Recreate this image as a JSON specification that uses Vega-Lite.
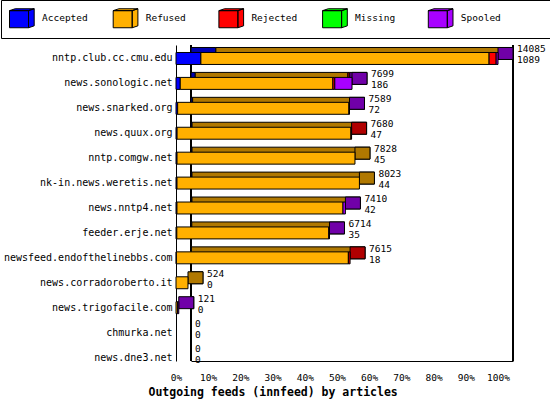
{
  "$schema": "https://vega.github.io/schema/vega-lite/v6.json",
  "width": 322,
  "height": 316,
  "autosize": {"type": "none"},
  "padding": {"left": 191, "top": 45, "right": 37, "bottom": 44},
  "background": "white",
  "data": {
    "values": [
      {"host": "nntp.club.cc.cmu.edu", "offered": 14085, "accepted": 1089, "Accepted": 7.73, "Refused": 89.5, "Rejected": 2.2, "Missing": 0, "Spooled": 0.57},
      {"host": "news.sonologic.net", "offered": 7699, "accepted": 186, "Accepted": 1.32, "Refused": 47.4, "Rejected": 0.6, "Missing": 0, "Spooled": 5.34},
      {"host": "news.snarked.org", "offered": 7589, "accepted": 72, "Accepted": 0.51, "Refused": 53.2, "Rejected": 0, "Missing": 0, "Spooled": 0.17},
      {"host": "news.quux.org", "offered": 7680, "accepted": 47, "Accepted": 0.33, "Refused": 54.0, "Rejected": 0.2, "Missing": 0, "Spooled": 0},
      {"host": "nntp.comgw.net", "offered": 7828, "accepted": 45, "Accepted": 0.32, "Refused": 55.26, "Rejected": 0, "Missing": 0, "Spooled": 0},
      {"host": "nk-in.news.weretis.net", "offered": 8023, "accepted": 44, "Accepted": 0.31, "Refused": 56.65, "Rejected": 0, "Missing": 0, "Spooled": 0},
      {"host": "news.nntp4.net", "offered": 7410, "accepted": 42, "Accepted": 0.3, "Refused": 51.56, "Rejected": 0, "Missing": 0, "Spooled": 0.75},
      {"host": "feeder.erje.net", "offered": 6714, "accepted": 35, "Accepted": 0.25, "Refused": 47.2, "Rejected": 0, "Missing": 0, "Spooled": 0.22},
      {"host": "newsfeed.endofthelinebbs.com", "offered": 7615, "accepted": 18, "Accepted": 0.13, "Refused": 53.4, "Rejected": 0.53, "Missing": 0, "Spooled": 0},
      {"host": "news.corradoroberto.it", "offered": 524, "accepted": 0, "Accepted": 0, "Refused": 3.72, "Rejected": 0, "Missing": 0, "Spooled": 0},
      {"host": "news.trigofacile.com", "offered": 121, "accepted": 0, "Accepted": 0, "Refused": 0.5, "Rejected": 0, "Missing": 0, "Spooled": 0.36},
      {"host": "chmurka.net", "offered": 0, "accepted": 0, "Accepted": 0, "Refused": 0, "Rejected": 0, "Missing": 0, "Spooled": 0},
      {"host": "news.dne3.net", "offered": 0, "accepted": 0, "Accepted": 0, "Refused": 0, "Rejected": 0, "Missing": 0, "Spooled": 0}
    ]
  },
  "layer": [
    {
      "mark": {"type": "rule", "color": "black", "strokeWidth": 1},
      "encoding": {
        "x": {
          "datum": 0,
          "type": "quantitative",
          "scale": {"domain": [0, 100], "nice": false, "zero": true},
          "axis": {
            "title": "Outgoing feeds (innfeed) by articles",
            "values": [0, 10, 20, 30, 40, 50, 60, 70, 80, 90, 100],
            "tickCount": 11,
            "labelExpr": "datum.value + '%'",
            "grid": false,
            "ticks": false,
            "labelOffset": -15,
            "labelPadding": 11,
            "labelFont": "DejaVu Sans Mono",
            "labelFontSize": 9.5,
            "labelColor": "black",
            "labelFlush": false,
            "labelOverlap": false,
            "labelBound": false,
            "domainColor": "black",
            "titleFont": "DejaVu Sans Mono",
            "titleFontSize": 11.5,
            "titleFontWeight": "bold",
            "titleColor": "black",
            "titleAnchor": "start",
            "titleAlign": "left",
            "titleX": -43,
            "titleY": 31,
            "titleBaseline": "middle"
          }
        }
      }
    },
    {
      "mark": {"type": "rule", "color": "black", "strokeWidth": 1},
      "encoding": {"x": {"datum": 100, "type": "quantitative"}}
    },
    {
      "transform": [
        {"fold": ["Accepted", "Refused", "Rejected", "Missing", "Spooled"], "as": ["cat", "value"]},
        {"filter": "datum.value > 0"},
        {"calculate": "indexof(['Accepted','Refused','Rejected','Missing','Spooled'], datum.cat)", "as": "idx"}
      ],
      "mark": {"type": "bar", "stroke": "black", "strokeWidth": 1, "opacity": 1},
      "encoding": {
        "y": {
          "field": "host",
          "type": "nominal",
          "scale": {
            "domain": ["nntp.club.cc.cmu.edu", "news.sonologic.net", "news.snarked.org", "news.quux.org", "nntp.comgw.net", "nk-in.news.weretis.net", "news.nntp4.net", "feeder.erje.net", "newsfeed.endofthelinebbs.com", "news.corradoroberto.it", "news.trigofacile.com", "chmurka.net", "news.dne3.net"],
            "paddingInner": 0.52,
            "paddingOuter": 0.1
          },
          "axis": {
            "title": null,
            "offset": 15,
            "ticks": false,
            "labelPadding": 4,
            "labelOffset": 5,
            "labelFont": "DejaVu Sans Mono",
            "labelFontSize": 10,
            "labelColor": "black",
            "labelLimit": 250,
            "domainColor": "black"
          }
        },
        "x": {"field": "value", "type": "quantitative", "stack": "zero"},
        "order": {"field": "idx"},
        "color": {
          "field": "cat",
          "scale": {"domain": ["Accepted", "Refused", "Rejected", "Missing", "Spooled"], "range": ["#0000b0", "#b07800", "#b00000", "#00a000", "#7000a8"]},
          "legend": null
        }
      }
    },
    {
      "transform": [
        {"fold": ["Accepted", "Refused", "Rejected", "Missing", "Spooled"], "as": ["cat", "value"]},
        {"filter": "datum.value > 0"},
        {"calculate": "indexof(['Accepted','Refused','Rejected','Missing','Spooled'], datum.cat)", "as": "idx"},
        {"joinaggregate": [{"op": "sum", "field": "value", "as": "total"}], "groupby": ["host"]},
        {"window": [{"op": "row_number", "as": "rk"}], "sort": [{"field": "idx", "order": "descending"}], "groupby": ["host"]},
        {"filter": "datum.rk == 1"}
      ],
      "mark": {"type": "bar", "stroke": "black", "strokeWidth": 1, "opacity": 1, "xOffset": -15},
      "encoding": {
        "y": {"field": "host", "type": "nominal"},
        "x": {"field": "total", "type": "quantitative"},
        "x2": {"field": "total"},
        "color": {
          "field": "cat",
          "scale": {"domain": ["Accepted", "Refused", "Rejected", "Missing", "Spooled"], "range": ["#0000b0", "#b07800", "#b00000", "#00a000", "#7000a8"]},
          "legend": null
        }
      }
    },
    {
      "transform": [
        {"fold": ["Accepted", "Refused", "Rejected", "Missing", "Spooled"], "as": ["cat", "value"]},
        {"filter": "datum.value > 0"},
        {"calculate": "indexof(['Accepted','Refused','Rejected','Missing','Spooled'], datum.cat)", "as": "idx"}
      ],
      "mark": {"type": "bar", "stroke": "black", "strokeWidth": 1, "opacity": 1, "xOffset": -15, "x2Offset": -15, "yOffset": 5},
      "encoding": {
        "y": {"field": "host", "type": "nominal"},
        "x": {"field": "value", "type": "quantitative", "stack": "zero"},
        "order": {"field": "idx"},
        "color": {
          "field": "cat",
          "scale": {"domain": ["Accepted", "Refused", "Rejected", "Missing", "Spooled"], "range": ["#0000ff", "#ffb000", "#ff0000", "#00ff00", "#a800ff"]},
          "legend": {
            "orient": "none",
            "legendX": -190,
            "legendY": -45,
            "direction": "horizontal",
            "columns": 5,
            "title": null,
            "symbolType": "M-1,-0.8H1V1H-1Z M-1,-0.8L-0.4,-1H1.6L1,-0.8Z M1,-0.8L1.6,-1V0.8L1,1Z",
            "symbolSize": 361,
            "symbolStrokeColor": "black",
            "symbolStrokeWidth": 1,
            "symbolOpacity": 1,
            "labelFont": "DejaVu Sans Mono",
            "labelFontSize": 9.5,
            "labelColor": "black",
            "labelOffset": 13,
            "columnPadding": 22.7,
            "padding": 8,
            "strokeColor": "black",
            "fillColor": "white",
            "labelExpr": "pad(datum.label, datum.label == 'Spooled' ? 15 : 8, '\u2800')"
          }
        }
      }
    },
    {
      "transform": [
        {"calculate": "datum.Accepted + datum.Refused + datum.Rejected + datum.Missing + datum.Spooled", "as": "total"}
      ],
      "mark": {"type": "text", "align": "left", "baseline": "middle", "dx": 4, "dy": -4, "font": "DejaVu Sans Mono", "fontSize": 9.5, "color": "black"},
      "encoding": {
        "y": {"field": "host", "type": "nominal"},
        "x": {"field": "total", "type": "quantitative"},
        "text": {"field": "offered"}
      }
    },
    {
      "transform": [
        {"calculate": "datum.Accepted + datum.Refused + datum.Rejected + datum.Missing + datum.Spooled", "as": "total"}
      ],
      "mark": {"type": "text", "align": "left", "baseline": "middle", "dx": 4, "dy": 7, "font": "DejaVu Sans Mono", "fontSize": 9.5, "color": "black"},
      "encoding": {
        "y": {"field": "host", "type": "nominal"},
        "x": {"field": "total", "type": "quantitative"},
        "text": {"field": "accepted"}
      }
    }
  ],
  "resolve": {"scale": {"color": "independent"}},
  "config": {
    "view": {"stroke": null},
    "font": "DejaVu Sans Mono",
    "axis": {"grid": false}
  }
}
